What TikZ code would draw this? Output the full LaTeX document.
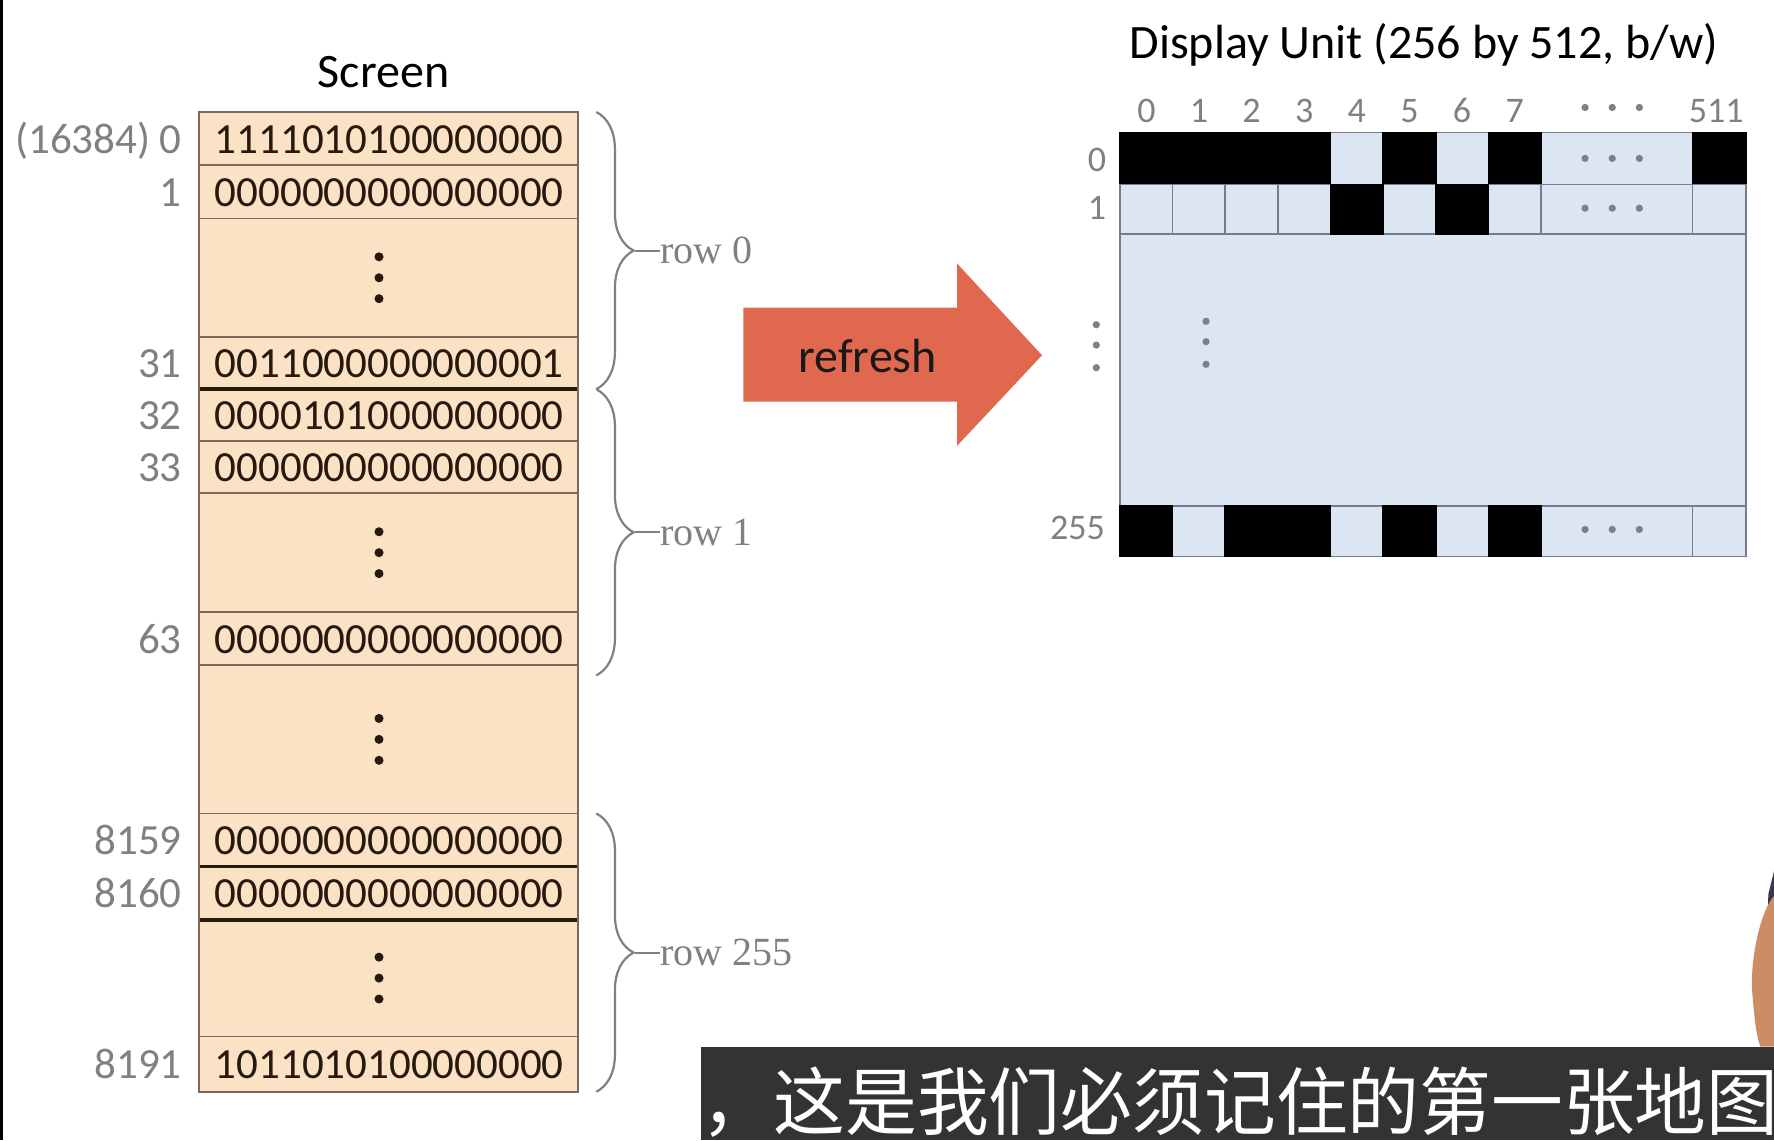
\documentclass[tikz,border=0pt]{standalone}
\usepackage{fontspec}
\setmainfont{Carlito}
\newfontfamily\rowserif{Liberation Serif}
\newfontfamily\subcjk{Noto Sans CJK SC}
\usetikzlibrary{decorations.pathreplacing}
\definecolor{memfill}{RGB}{252,226,197}
\definecolor{memline}{RGB}{125,105,85}
\definecolor{memtext}{RGB}{40,25,15}
\definecolor{addrgray}{RGB}{128,128,128}
\definecolor{pixfill}{RGB}{220,230,242}
\definecolor{pixline}{RGB}{115,125,140}
\definecolor{arrowfill}{RGB}{224,104,78}
\definecolor{barfill}{RGB}{51,51,51}
\definecolor{skin}{RGB}{205,140,100}
\definecolor{shirt}{RGB}{60,55,80}

\tikzset{
  word/.style={anchor=base, inner sep=0pt, text=memtext, font=\fontsize{21.5}{24}\selectfont},
  addr/.style={anchor=base east, inner sep=0pt, text=addrgray, font=\fontsize{21.5}{24}\selectfont},
  pixnum/.style={anchor=base, inner sep=0pt, text=addrgray, font=\fontsize{18}{20}\selectfont},
  rowlab/.style={anchor=west, inner sep=0pt, text=addrgray, font=\rowserif\fontsize{20}{22}\selectfont},
  pixon/.style={fill=black, draw=black, line width=0.8pt},
  pixoff/.style={fill=pixfill, draw=pixline, line width=0.8pt},
  rowbrace/.style={decorate, decoration={brace, amplitude=18.7pt}, draw=addrgray, line width=1.1pt},
}

\begin{document}
\begin{tikzpicture}[x=0.5657pt,y=-0.5657pt]
\useasboundingbox (0,0) rectangle (1568,1008);
\fill[black] (0,0) rectangle (2.5,1008);

% screen memory map
\node[anchor=base, inner sep=0pt, font=\fontsize{24}{28}\selectfont] (screen) at (339,77) {Screen};
\fill[memfill] (176,99) rectangle (511,965);
\draw[memline, line width=0.8pt] (176,146) -- (511,146);
\draw[memline, line width=0.8pt] (176,193) -- (511,193);
\draw[memline, line width=0.8pt] (176,298) -- (511,298);
\draw[memline, line width=0.8pt] (176,390) -- (511,390);
\draw[memline, line width=0.8pt] (176,436) -- (511,436);
\draw[memline, line width=0.8pt] (176,541) -- (511,541);
\draw[memline, line width=0.8pt] (176,588) -- (511,588);
\draw[memline, line width=0.8pt] (176,719) -- (511,719);
\draw[memline, line width=0.8pt] (176,916) -- (511,916);
\draw[memtext, line width=1.7pt] (176,344) -- (511,344);
\draw[memtext, line width=1.7pt] (176,766) -- (511,766);
\draw[memtext, line width=1.7pt] (176,813) -- (511,813);
\draw[memline, line width=1pt] (176,99) rectangle (511,965);

\node[word] (w0) at (344,135.5) {1111010100000000};
\node[word] (w1) at (344,182.5) {0000000000000000};
\node[word] (w31) at (344,334) {0011000000000001};
\node[word] (w32) at (344,380) {0000101000000000};
\node[word] (w33) at (344,426) {0000000000000000};
\node[word] (w63) at (344,577.5) {0000000000000000};
\node[word] (w8159) at (344,755.5) {0000000000000000};
\node[word] (w8160) at (344,802.5) {0000000000000000};
\node[word] (w8191) at (344,953.5) {1011010100000000};

\node[addr] (a0) at (161,135.5) {(16384) 0};
\node[addr] (a1) at (161,182.5) {1};
\node[addr] (a31) at (161,334) {31};
\node[addr] (a32) at (161,380) {32};
\node[addr] (a33) at (161,426) {33};
\node[addr] (a63) at (161,577.5) {63};
\node[addr] (a8159) at (161,755.5) {8159};
\node[addr] (a8160) at (161,802.5) {8160};
\node[addr] (a8191) at (161,953.5) {8191};

\foreach \y in {245.5,488.5,653.5,864.5}
  \foreach \d in {-18.5,0,18.5}
    \fill[memtext] (335,\y+\d) circle (4);

% braces
\draw[rowbrace] (527,99) -- (527,344);
\draw[rowbrace] (527,344) -- (527,597);
\draw[rowbrace] (527,719) -- (527,965);
\coordinate (tip0) at (561,221.5);
\coordinate (tip1) at (561,470.5);
\coordinate (tip255) at (561,842);
\node[rowlab] (row0) at (583,221.5) {row 0};
\node[rowlab] (row1) at (583,470.5) {row 1};
\node[rowlab] (row255) at (583,842) {row 255};
\draw[addrgray, line width=1.1pt] (tip0) -- (row0.west);
\draw[addrgray, line width=1.1pt] (tip1) -- (row1.west);
\draw[addrgray, line width=1.1pt] (tip255) -- (row255.west);

% refresh arrow
\fill[arrowfill] (657,272) -- (846,272) -- (846,233) -- (921,314) -- (846,394) -- (846,355) -- (657,355) -- cycle;
\node[anchor=base, inner sep=0pt, text=black!90, font=\fontsize{24}{28}\selectfont] (refresh) at (767,329) {refresh};

% display unit
\node[anchor=base, inner sep=0pt, font=\fontsize{24}{28}\selectfont] (display) at (1258.5,52) {Display Unit (256 by 512, b/w)};
\draw[pixoff] (990,207) rectangle (1543,447);
% row 0
\draw[pixoff] (1176,117) rectangle (1222.5,163);
\draw[pixoff] (1269,117) rectangle (1315.5,163);
\draw[pixoff] (1362,117) rectangle (1496,163);
\draw[pixon] (990,117) rectangle (1176,163);
\draw[pixon] (1222.5,117) rectangle (1269,163);
\draw[pixon] (1315.5,117) rectangle (1362,163);
\draw[pixon] (1496,117) rectangle (1543,163);
% row 1
\foreach \x in {990,1036.5,1083,1129.5,1222.5,1315.5}
  \draw[pixoff] (\x,163) rectangle ++(46.5,44);
\draw[pixoff] (1362,163) rectangle (1496,207);
\draw[pixoff] (1496,163) rectangle (1543,207);
\draw[pixon] (1176,163) rectangle (1222.5,207);
\draw[pixon] (1269,163) rectangle (1315.5,207);
% row 255
\foreach \x in {1036.5,1176,1269}
  \draw[pixoff] (\x,447) rectangle ++(46.5,45);
\draw[pixoff] (1362,447) rectangle (1496,492);
\draw[pixoff] (1496,447) rectangle (1543,492);
\draw[pixon] (990,447) rectangle (1036.5,492);
\draw[pixon] (1083,447) rectangle (1176,492);
\draw[pixon] (1222.5,447) rectangle (1269,492);
\draw[pixon] (1315.5,447) rectangle (1362,492);

\node[pixnum] (c0) at (1013.25,108) {0};
\node[pixnum] (c1) at (1059.75,108) {1};
\node[pixnum] (c2) at (1106.25,108) {2};
\node[pixnum] (c3) at (1152.75,108) {3};
\node[pixnum] (c4) at (1199.25,108) {4};
\node[pixnum] (c5) at (1245.75,108) {5};
\node[pixnum] (c6) at (1292.25,108) {6};
\node[pixnum] (c7) at (1338.75,108) {7};
\node[pixnum] (c511) at (1517,108) {511};
\node[pixnum, anchor=base east] (r0) at (978,152) {0};
\node[pixnum, anchor=base east] (r1) at (978,194) {1};
\node[pixnum, anchor=base east] (r255) at (977,477) {255};

\foreach \y in {95,140,184,468}
  \foreach \x in {1401,1425,1449}
    \fill[addrgray] (\x,\y) circle (3.2);
\foreach \y in {287,305,325} \fill[addrgray] (969,\y) circle (3.2);
\foreach \y in {284,302,322} \fill[addrgray] (1066,\y) circle (3.2);

% subtitle bar and speaker
\fill[shirt] (1568,770) -- (1563,790) -- (1562,822) -- (1568,830) -- cycle;
\fill[skin] (1568,792) .. controls (1556,805) and (1546,850) .. (1549,880) .. controls (1551,905) and (1553,918) .. (1556,925) -- (1568,925) -- cycle;
\fill[barfill] (620,925) rectangle (1568,1008);
\begin{scope}
\clip (620,925) rectangle (1568,1008);
\node[anchor=base west, inner sep=0pt, text=white, xscale=0.97, font=\subcjk\fontsize{37}{40}\selectfont] (caption) at (620,998) {，这是我们必须记住的第一张地图};
\end{scope}
\end{tikzpicture}
\end{document}
